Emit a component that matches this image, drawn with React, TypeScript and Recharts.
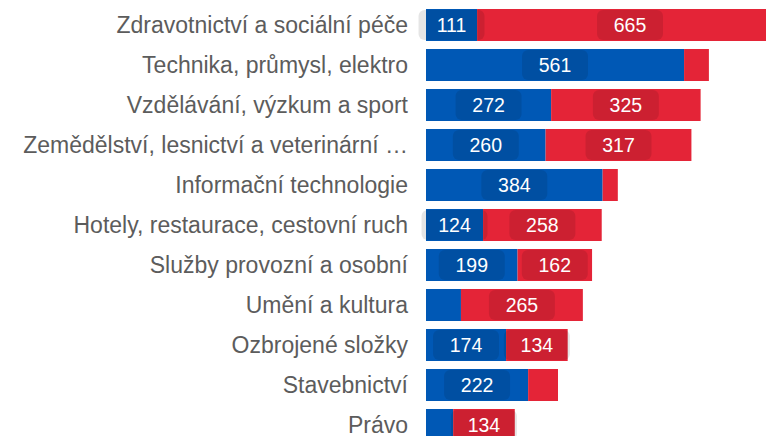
import { Bar, BarChart, LabelList, XAxis, YAxis } from "recharts";

const categories = [
  "Zdravotnictví a sociální péče",
  "Technika, průmysl, elektro",
  "Vzdělávání, výzkum a sport",
  "Zemědělství, lesnictví a veterinární péče",
  "Informační technologie",
  "Hotely, restaurace, cestovní ruch",
  "Služby provozní a osobní",
  "Umění a kultura",
  "Ozbrojené složky",
  "Stavebnictví",
  "Právo",
];

const blueValues = [111, 561, 272, 260, 384, 124, 199, 76, 174, 222, 59];
const redValues = [665, 54, 325, 317, 33, 258, 162, 265, 134, 65, 134];

const COLORS = {
  blue: "#0058b5",
  red: "#e42437",
  text: "#5c5c5c",
};

const FONT = '"Liberation Sans", Arial, sans-serif';

const data = categories.map((name, i) => ({
  name,
  blue: blueValues[i],
  red: redValues[i],
}));

function shortenLabel(label: string) {
  return label.length > 38 ? label.slice(0, 37) + "…" : label;
}

function badge(cx: number, y: number, height: number, value: number, key: string) {
  if (value < 100) return null;
  return (
    <g key={key}>
      <rect x={cx - 33} y={y + 1} width={66} height={height - 2} rx={6} fill="rgba(0,0,0,0.1)" />
      <text
        x={cx}
        y={y + height / 2}
        textAnchor="middle"
        dominantBaseline="central"
        fill="#ffffff"
        fontSize={19.5}
        fontFamily={FONT}
      >
        {value}
      </text>
    </g>
  );
}

// drawn from the red (top) series so the badges sit above both segments
function Badges(props: any) {
  const x = Number(props.x);
  const y = Number(props.y);
  const width = Number(props.width);
  const height = Number(props.height);
  const i = props.index;
  const red = i != null ? redValues[i] : Number(props.value);
  const blue = i != null ? blueValues[i] : 0;
  const k = width / red;
  const blueWidth = blue * k;
  return (
    <g>
      {i != null && badge(x - blueWidth / 2, y, height, blue, "b")}
      {badge(x + width / 2, y, height, red, "r")}
    </g>
  );
}

export default function App() {
  return (
    <div
      style={{
        position: "absolute",
        left: 0,
        top: 0,
        width: 766,
        height: 436,
        overflow: "hidden",
        background: "#fff",
      }}
    >
      <BarChart
        width={794}
        height={445}
        data={data}
        layout="vertical"
        margin={{ top: 5, right: 0, bottom: 0, left: 0 }}
      >
        <XAxis type="number" domain={[0, 800]} hide />
        <YAxis
          type="category"
          dataKey="name"
          width={426}
          axisLine={false}
          tickLine={false}
          tickSize={0}
          tickMargin={18}
          interval={0}
          tickFormatter={shortenLabel}
          tick={{ fill: COLORS.text, fontSize: 23, fontFamily: FONT }}
        />
        <Bar dataKey="blue" stackId="a" fill={COLORS.blue} barSize={32} isAnimationActive={false} />
        <Bar dataKey="red" stackId="a" fill={COLORS.red} barSize={32} isAnimationActive={false}>
          <LabelList dataKey="red" content={Badges} />
        </Bar>
      </BarChart>
    </div>
  );
}
